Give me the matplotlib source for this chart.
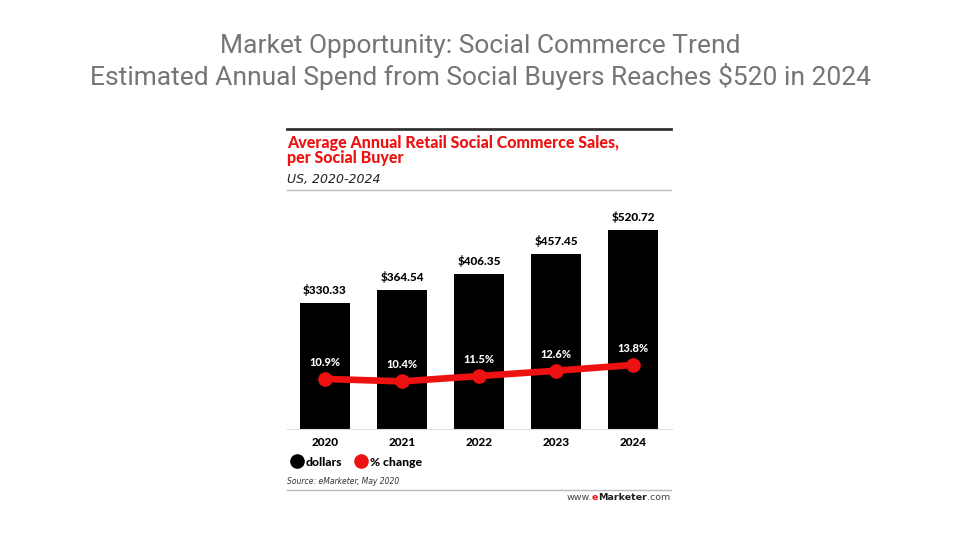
import numpy as np
import matplotlib.pyplot as plt
from matplotlib.lines import Line2D

# data
years = ['2020', '2021', '2022', '2023', '2024']
dollars = [330.33, 364.54, 406.35, 457.45, 520.72]
pct_change = [10.9, 10.4, 11.5, 12.6, 13.8]

W, H = 960, 540
RED = '#ee1111'
BOLD_FONT = ['Lato', 'DejaVu Sans']


def px_box(x0, y0, x1, y1):
    # pixel box (top-left origin) -> figure fraction rect
    return [x0 / W, 1 - y1 / H, (x1 - x0) / W, (y1 - y0) / H]


fig = plt.figure(figsize=(9.6, 5.4), dpi=100)
fig.patch.set_facecolor('white')

# slide title
fig.text(0.5, 1 - 46 / H, 'Market Opportunity: Social Commerce Trend',
         ha='center', va='center', fontsize=19, color='#757575', family='Roboto')
fig.text(0.5, 1 - 77 / H, 'Estimated Annual Spend from Social Buyers Reaches $520 in 2024',
         ha='center', va='center', fontsize=19, color='#757575', family='Roboto')

# chart header
fig.add_artist(Line2D([287 / W, 671 / W], [1 - 129 / H] * 2, color='#333333', lw=2))
fig.text(287 / W, 1 - 143 / H, 'Average Annual Retail Social Commerce Sales,',
         ha='left', va='center', fontsize=11.5, color=RED, weight='black', family=BOLD_FONT)
fig.text(287 / W, 1 - 158 / H, 'per Social Buyer',
         ha='left', va='center', fontsize=11.5, color=RED, weight='black', family=BOLD_FONT)
fig.text(287 / W, 1 - 180 / H, 'US, 2020-2024',
         ha='left', va='center', fontsize=9, color='#222222', style='italic', family='DejaVu Sans')
fig.add_artist(Line2D([287 / W, 671 / W], [1 - 190 / H] * 2, color='#bbbbbb', lw=1))

# bars
ax = fig.add_axes(px_box(286.5, 200, 671.5, 429))
x = np.arange(len(years))
ax.bar(x, dollars, width=0.64, color='black', zorder=2)
ax.set_xlim(-0.5, len(years) - 0.5)
ax.set_ylim(0, 599.5)
for xi, v in zip(x, dollars):
    ax.annotate(f'${v:.2f}', (xi, v), xytext=(0, 5), textcoords='offset points',
                ha='center', va='bottom', fontsize=8.5, weight='black', family=BOLD_FONT)
for s in ['top', 'left', 'right']:
    ax.spines[s].set_visible(False)
ax.spines['bottom'].set_color('#dddddd')
ax.set_yticks([])
ax.set_xticks(x)
ax.set_xticklabels(years, fontsize=8.5, weight='black', family=BOLD_FONT)
ax.tick_params(axis='x', length=0, pad=6)

# percent change line (its zero sits a little below the bar baseline)
ax2 = ax.twinx()
ax2.set_ylim(0.54, 47.94)
ax2.plot(x, pct_change, color=RED, lw=4.8, marker='o', ms=9.5, solid_capstyle='round', zorder=3)
for xi, p in zip(x, pct_change):
    ax2.annotate(f'{p}%', (xi, p), xytext=(0, 8), textcoords='offset points',
                 ha='center', va='bottom', fontsize=8, color='white', weight='black',
                 family=BOLD_FONT)
ax2.axis('off')

# legend
handles = [Line2D([], [], marker='o', ls='', color='black', ms=9.5),
           Line2D([], [], marker='o', ls='', color=RED, ms=9.5)]
leg = fig.legend(handles, ['dollars', '% change'], loc='center left',
                 bbox_to_anchor=(279 / W, 1 - 462 / H), ncol=2, frameon=False,
                 handletextpad=0.1, columnspacing=1.0, handlelength=1.2,
                 prop={'family': BOLD_FONT, 'weight': 'black', 'size': 8.7})

# footer
fig.text(287 / W, 1 - 481 / H, 'Source: eMarketer, May 2020',
         ha='left', va='center', fontsize=5.5, color='#333333', style='italic', family='DejaVu Sans')
fig.add_artist(Line2D([287 / W, 671 / W], [1 - 490 / H] * 2, color='#bbbbbb', lw=1))

# www.eMarketer.com, pieces laid out right to left by measured width
renderer = fig.canvas.get_renderer()
xr = 670
for part, col, wt in [('.com', '#444444', 'normal'), ('Marketer', '#222222', 'bold'),
                      ('e', RED, 'bold'), ('www.', '#444444', 'normal')]:
    t = fig.text(xr / W, 1 - 497 / H, part, ha='right', va='center', fontsize=6.8,
                 color=col, weight=wt, family='DejaVu Sans')
    xr -= t.get_window_extent(renderer).width

fig.savefig('out.png', dpi=100, facecolor='white')
